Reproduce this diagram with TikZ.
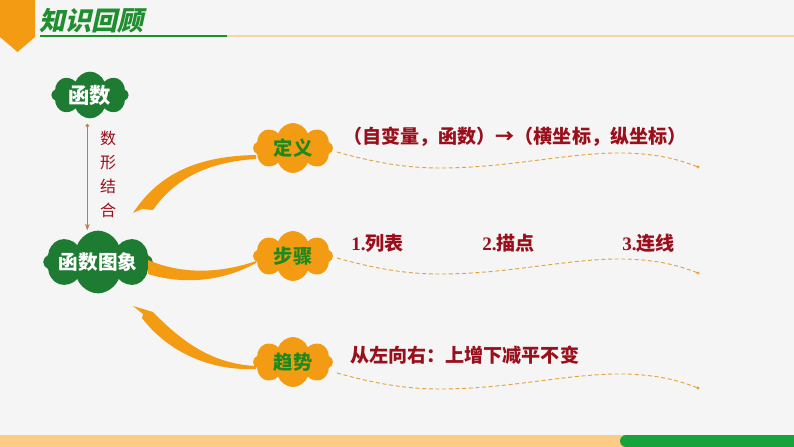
\documentclass[tikz,border=0pt]{standalone}
\usepackage{fontspec}
\setmainfont{Liberation Serif}
\newfontfamily\cjk{Noto Sans CJK SC}
\newfontfamily\titlefont{Noto Sans CJK SC}[FakeSlant=0.22]
\usetikzlibrary{shapes.symbols,arrows.meta}
\definecolor{bg}{HTML}{F5F5F5}
\definecolor{cgreen}{HTML}{1E7B32}
\definecolor{tgreen}{HTML}{1F8E2E}
\definecolor{ogreen}{HTML}{1E8A1E}
\definecolor{corange}{HTML}{F39B12}
\definecolor{dred}{HTML}{990F1C}
\definecolor{dashc}{HTML}{E2A53C}
\definecolor{arrowc}{HTML}{C8783A}
\definecolor{lorange}{HTML}{F5D7A6}
\definecolor{barorange}{HTML}{FCCB84}
\definecolor{bargreen}{HTML}{17A33B}
\tikzset{
  greencloud/.style={cloud, cloud puffs=8, cloud puff arc=140, cloud ignores aspect,
    fill=cgreen, draw=none, inner sep=0pt, text=white,
    font=\cjk\bfseries\fontsize{16}{16}\selectfont},
  orangecloud/.style={cloud, cloud puffs=8, cloud puff arc=140, cloud ignores aspect,
    fill=corange, draw=none, inner sep=0pt, text=ogreen,
    minimum width=60pt, minimum height=37.5pt,
    font=\cjk\bfseries\fontsize{14.5}{14.5}\selectfont},
  redtxt/.style={anchor=west, inner sep=0pt, text=dred,
    font=\cjk\bfseries\fontsize{14.3}{14.3}\selectfont},
  dashline/.style={draw=dashc, line width=0.7pt, dash pattern=on 3pt off 2pt},
  swoosh/.style={fill=corange, draw=none}
}
\begin{document}
\begin{tikzpicture}[x=0.75pt,y=-0.75pt]
\fill[bg] (0,0) rectangle (794,447);
\useasboundingbox (0,0) rectangle (794,447);
% header
\fill[corange] (0,0) -- (35,0) -- (35,37) -- (17.5,52) -- (0,37) -- cycle;
\node[anchor=west, inner sep=0pt, text=tgreen, font=\titlefont\bfseries\fontsize{19.5}{19.5}\selectfont] (title) at (39,21) {知识回顾};
\draw[tgreen, line width=1.6pt] (40,36) -- (227,36);
\draw[lorange, line width=1.6pt] (227,36) -- (794,36);
% footer
\fill[barorange] (0,435) rectangle (794,447);
\fill[bargreen] (626,435) rectangle (794,447);
\fill[bargreen] (626,441) circle[radius=4.5pt];
% green clouds
\node[greencloud, minimum width=58pt, minimum height=35pt] (f1) at (90,95) {函数};
\node[greencloud, minimum width=78pt, minimum height=47pt, font=\cjk\bfseries\fontsize{14.7}{14.7}\selectfont] (f2) at (98,262) {函数图象};
\draw[arrowc, line width=0.8pt, {Circle[length=2.5pt]}-{Stealth[length=5pt,width=3.5pt]}]
  ([xshift=-2pt,yshift=-4pt]f1.south) -- ([xshift=-2pt]f1.south |- f2.north);
\node[inner sep=0pt, text=dred, align=center, font=\cjk\fontsize{12}{18}\selectfont] (sx) at (108,174) {数\\形\\结\\合};
% orange clouds
\node[orangecloud] (d1) at (293,148) {定义};
\node[orangecloud] (d2) at (293,256) {步骤};
\node[orangecloud] (d3) at (293,362) {趋势};
% swooshes
\fill[swoosh] (256,155) .. controls (200,156) and (160,172) .. (133,213) -- (142,209) -- (153,210)
  .. controls (173,181) and (205,162) .. (256,159) -- cycle;
\fill[swoosh] (148,260) .. controls (185,276) and (225,272) .. (256,261) -- (256,263)
  .. controls (220,283) and (180,284) .. (148,274) -- cycle;
\fill[swoosh] (133,306) -- (153,312) .. controls (185,345) and (215,364) .. (256,366) -- (256,369)
  .. controls (210,371) and (168,352) .. (142,318) -- (143,314) -- cycle;
% dashed waves
\foreach \d in {0,106,221}{
  \draw[dashline] (337,152+\d) .. controls (380,164+\d) and (410,168+\d) .. (440,168+\d)
    .. controls (510,168+\d) and (570,152+\d) .. (625,153+\d)
    .. controls (660,154+\d) and (680,160+\d) .. (698,167+\d);
  \fill[dashc] (698,167+\d) circle[radius=1.3pt];
}
% texts
\node[redtxt] (t1) at (343,137) {（自变量，函数）→（横坐标，纵坐标）};
\node[redtxt] (t2) at (351,243) {{\rmfamily\bfseries 1.}列表};
\node[redtxt] (t3) at (482,243) {{\rmfamily\bfseries 2.}描点};
\node[redtxt] (t4) at (622,243) {{\rmfamily\bfseries 3.}连线};
\node[redtxt] (t5) at (350,355) {从左向右：上增下减平不变};
\end{tikzpicture}
\end{document}
